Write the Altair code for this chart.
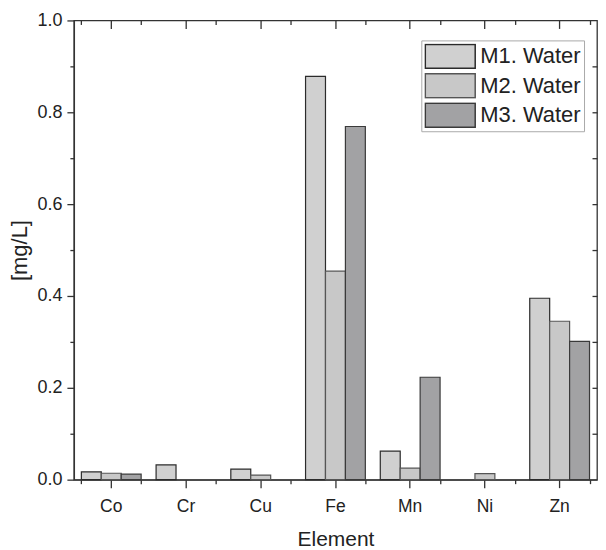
import altair as alt
import pandas as pd

elements = ["Co", "Cr", "Cu", "Fe", "Mn", "Ni", "Zn"]
series = ["M1. Water", "M2. Water", "M3. Water"]
m1 = [0.017, 0.032, 0.023, 0.878, 0.062, 0.0, 0.395]
m2 = [0.014, 0.0, 0.010, 0.454, 0.025, 0.013, 0.345]
m3 = [0.012, 0.0, 0.0, 0.769, 0.223, 0.0, 0.301]
fills = ["#d0d0d0", "#c8c8c8", "#a2a2a4"]
strokes = ["#2b2b2b", "#555555", "#3a3a3a"]

major_y = [0.0, 0.2, 0.4, 0.6, 0.8, 1.0]
minor_y = [0.1, 0.3, 0.5, 0.7, 0.9]
all_y = [0.1, 0.2, 0.3, 0.4, 0.5, 0.6, 0.7, 0.8, 0.9]

rows = []
for s, vals in zip(series, [m1, m2, m3]):
    for e, v in zip(elements, vals):
        rows.append({"Element": e, "Series": s, "Value": v})
df = pd.DataFrame(rows)

FONT = "Liberation Sans"
INK = "#222222"
LINE = "#333333"

xscale = alt.Scale(paddingInner=0.2, paddingOuter=0.1)
yscale = alt.Scale(domain=[0, 1], nice=False, zero=True)

base = alt.Chart(df)

bars = base.mark_bar(strokeWidth=1.2).encode(
    x=alt.X("Element:N", sort=elements, scale=xscale,
            axis=alt.Axis(orient="bottom", title="Element", labelAngle=0,
                          tickSize=8, labelPadding=10, labelFontSize=17.5,
                          titleFontSize=21, titlePadding=13, titleFontWeight="normal",
                          domainColor=LINE, tickColor=LINE, labelColor=INK,
                          titleColor=INK, grid=False, domainWidth=1.3, tickWidth=1.3)),
    xOffset=alt.XOffset("Series:N", sort=series,
                        scale=alt.Scale(paddingInner=0, paddingOuter=0)),
    y=alt.Y("Value:Q", scale=yscale, stack=None,
            axis=alt.Axis(orient="left", title="[mg/L]", values=major_y, format=".1f",
                          tickSize=7, labelPadding=5, labelFontSize=18,
                          titleFontSize=22, titlePadding=5, titleFontWeight="normal",
                          domainColor=LINE, tickColor=LINE, labelColor=INK,
                          titleColor=INK, grid=False, domainWidth=1.3, tickWidth=1.3)),
    fill=alt.Fill("Series:N", sort=series,
                  scale=alt.Scale(domain=series, range=fills),
                  legend=alt.Legend(title=None)),
    stroke=alt.Stroke("Series:N", sort=series,
                      scale=alt.Scale(domain=series, range=strokes),
                      legend=alt.Legend(title=None)),
).transform_filter("datum.Value > 0")

minor = base.mark_bar(opacity=0).encode(
    x=alt.X("Element:N", sort=elements, scale=xscale,
            axis=alt.Axis(orient="bottom", title=None, labels=False, domain=False,
                          tickBand="extent", tickSize=4, tickColor=LINE, tickWidth=1.3,
                          grid=False)),
    y=alt.Y("Value:Q", scale=yscale, stack=None,
            axis=alt.Axis(orient="left", title=None, labels=False, domain=False,
                          values=minor_y, tickSize=4, tickColor=LINE, tickWidth=1.3,
                          grid=False)),
)

topright = base.mark_bar(opacity=0).encode(
    x=alt.X("Element:N", sort=elements, scale=xscale,
            axis=alt.Axis(orient="top", title=None, labels=False, domain=False,
                          offset=-8, tickSize=8, tickColor=LINE, tickWidth=1.3,
                          grid=False)),
    y=alt.Y("Value:Q", scale=yscale, stack=None,
            axis=alt.Axis(orient="right", title=None, labels=False, domain=False,
                          values=all_y, offset=-5, tickSize=5, tickColor=LINE,
                          tickWidth=1.3, grid=False)),
)

topminor = base.mark_bar(opacity=0).encode(
    x=alt.X("Element:N", sort=elements, scale=xscale,
            axis=alt.Axis(orient="top", title=None, labels=False, domain=False,
                          tickBand="extent", offset=-4, tickSize=4, tickColor=LINE,
                          tickWidth=1.3, grid=False)),
    y=alt.Y("Value:Q", scale=yscale, stack=None, axis=None),
)

chart = alt.layer(bars, minor, topright, topminor).resolve_axis(
    x="independent", y="independent"
).properties(
    width=524, height=460,
    padding={"left": 0, "top": 3, "right": 0, "bottom": 0},
).configure(
    font=FONT,
).configure_view(
    stroke=LINE, strokeWidth=1.3,
).configure_legend(
    orient="none", legendX=348, legendY=20,
    symbolType="M-1,-0.48H1V0.48H-1Z", symbolSize=2500, symbolStrokeWidth=1.5,
    clipHeight=26, rowPadding=3.5,
    labelFontSize=22, labelFont=FONT, labelColor=INK, labelLimit=300,
    strokeColor="#aaaaaa", padding=3, labelOffset=4,
    fillColor="white",
)

chart.save("out.html", embed_options={"renderer": "svg", "actions": False})
